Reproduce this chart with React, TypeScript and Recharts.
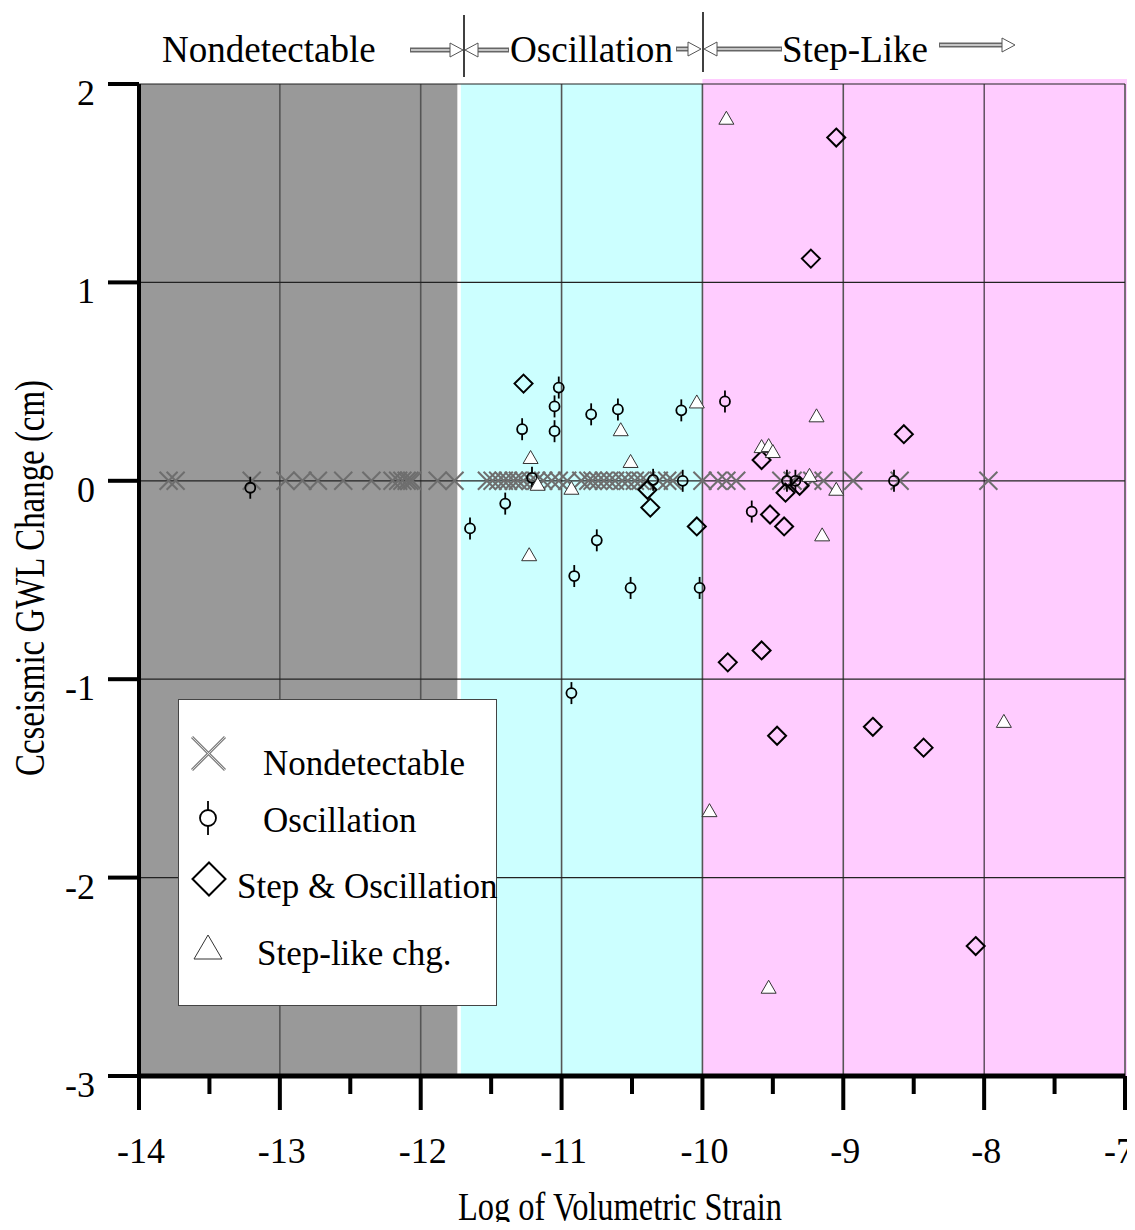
import React from "react";
import {
  ScatterChart,
  Scatter,
  XAxis,
  YAxis,
  ReferenceArea,
  ReferenceLine,
  Legend,
} from "recharts";

const FONT = "'Liberation Serif', 'Times New Roman', serif";

// log volumetric strain vs coseismic change
const nondetectable = [
  { x: -13.79, y: 0 }, { x: -13.74, y: 0 }, { x: -13.2, y: 0 }, { x: -12.96, y: 0 },
  { x: -12.84, y: 0 }, { x: -12.73, y: 0 }, { x: -12.55, y: 0 }, { x: -12.35, y: 0 },
  { x: -12.2, y: 0 }, { x: -12.16, y: 0 }, { x: -12.13, y: 0 }, { x: -12.1, y: 0 },
  { x: -12.08, y: 0 }, { x: -12.06, y: 0 }, { x: -11.88, y: 0 }, { x: -11.76, y: 0 },
  { x: -11.53, y: 0 }, { x: -11.49, y: 0 }, { x: -11.45, y: 0 }, { x: -11.41, y: 0 },
  { x: -11.38, y: 0 }, { x: -11.34, y: 0 }, { x: -11.31, y: 0 }, { x: -11.27, y: 0 },
  { x: -11.22, y: 0 }, { x: -11.18, y: 0 }, { x: -11.13, y: 0 }, { x: -11.07, y: 0 },
  { x: -11.02, y: 0 }, { x: -10.96, y: 0 }, { x: -10.86, y: 0 }, { x: -10.81, y: 0 },
  { x: -10.78, y: 0 }, { x: -10.74, y: 0 }, { x: -10.7, y: 0 }, { x: -10.66, y: 0 },
  { x: -10.62, y: 0 }, { x: -10.57, y: 0 }, { x: -10.53, y: 0 }, { x: -10.48, y: 0 },
  { x: -10.44, y: 0 }, { x: -10.4, y: 0 }, { x: -10.31, y: 0 }, { x: -10.25, y: 0 },
  { x: -10.21, y: 0 }, { x: -10.0, y: 0 }, { x: -9.89, y: 0 }, { x: -9.83, y: 0 },
  { x: -9.76, y: 0 }, { x: -9.44, y: 0 }, { x: -9.36, y: 0 }, { x: -9.22, y: 0 },
  { x: -9.14, y: 0 }, { x: -8.93, y: 0 }, { x: -8.6, y: 0 }, { x: -7.97, y: 0 },
];

const oscillation = [
  { x: -13.21, y: -0.035 }, { x: -11.02, y: 0.47 }, { x: -11.05, y: 0.375 },
  { x: -11.28, y: 0.26 }, { x: -11.05, y: 0.25 }, { x: -10.79, y: 0.335 },
  { x: -10.6, y: 0.36 }, { x: -10.15, y: 0.355 }, { x: -11.21, y: 0.015 },
  { x: -10.35, y: 0.005 }, { x: -10.14, y: 0.0 }, { x: -11.4, y: -0.115 },
  { x: -11.65, y: -0.24 }, { x: -10.75, y: -0.3 }, { x: -10.91, y: -0.48 },
  { x: -10.51, y: -0.54 }, { x: -10.02, y: -0.54 }, { x: -10.93, y: -1.07 },
  { x: -9.84, y: 0.4 }, { x: -9.4, y: 0.0 }, { x: -9.34, y: 0.0 },
  { x: -9.65, y: -0.155 }, { x: -8.64, y: 0.0 },
];

const stepOscillation = [
  { x: -11.27, y: 0.49 }, { x: -10.39, y: -0.045 }, { x: -10.37, y: -0.135 },
  { x: -10.04, y: -0.23 }, { x: -9.05, y: 1.73 }, { x: -9.23, y: 1.12 },
  { x: -9.58, y: 0.105 }, { x: -8.57, y: 0.235 }, { x: -9.41, y: -0.06 },
  { x: -9.31, y: -0.025 }, { x: -9.52, y: -0.17 }, { x: -9.42, y: -0.23 },
  { x: -9.82, y: -0.915 }, { x: -9.58, y: -0.855 }, { x: -9.47, y: -1.285 },
  { x: -8.79, y: -1.24 }, { x: -8.43, y: -1.345 }, { x: -8.06, y: -2.345 },
];

const stepLike = [
  { x: -11.22, y: 0.12 }, { x: -10.58, y: 0.26 }, { x: -10.51, y: 0.1 },
  { x: -10.93, y: -0.035 }, { x: -11.23, y: -0.37 }, { x: -10.04, y: 0.4 },
  { x: -11.17, y: -0.015 }, { x: -9.19, y: 0.33 }, { x: -9.58, y: 0.175 },
  { x: -9.53, y: 0.18 }, { x: -9.5, y: 0.15 }, { x: -9.24, y: 0.03 },
  { x: -9.05, y: -0.04 }, { x: -9.15, y: -0.27 }, { x: -9.83, y: 1.83 },
  { x: -9.95, y: -1.66 }, { x: -9.53, y: -2.55 }, { x: -7.86, y: -1.21 },
];

const xTicks = [-14, -13.5, -13, -12.5, -12, -11.5, -11, -10.5, -10, -9.5, -9, -8.5, -8, -7.5, -7];
const yTicks = [-3, -2, -1, 0, 1, 2];
const gridX = [-13, -12, -11, -10, -9, -8, -7];
const gridY = [-2, -1, 0, 1, 2];

const cross = (cx: number, cy: number, s: number) => (
  <g stroke="#6e6e6e" strokeWidth={2}>
    <line x1={cx - s} y1={cy - s} x2={cx + s} y2={cy + s} />
    <line x1={cx - s} y1={cy + s} x2={cx + s} y2={cy - s} />
  </g>
);

const osc = (cx: number, cy: number, r: number, w: number) => (
  <g stroke="#000" strokeWidth={1.8} fill="none">
    <line x1={cx} y1={cy - w} x2={cx} y2={cy - r} />
    <line x1={cx} y1={cy + r} x2={cx} y2={cy + w} />
    <circle cx={cx} cy={cy} r={r} />
  </g>
);

const diamond = (cx: number, cy: number, s: number) => (
  <polygon
    points={`${cx},${cy - s} ${cx + s},${cy} ${cx},${cy + s} ${cx - s},${cy}`}
    fill="none"
    stroke="#000"
    strokeWidth={2}
  />
);

const triangle = (cx: number, cy: number, w: number, h: number) => (
  <polygon
    points={`${cx},${cy - h / 2} ${cx + w / 2},${cy + h / 2} ${cx - w / 2},${cy + h / 2}`}
    fill="#fff"
    stroke="#333"
    strokeWidth={1}
  />
);

const XTick = (props: any) => {
  const { x, y, payload } = props;
  const major = Number.isInteger(payload.value);
  const last = payload.value === -7;
  return (
    <g>
      <line x1={x} y1={y} x2={x} y2={y + (major ? 34 : 18)} stroke="#000" strokeWidth={4} />
      {major && (
        <text
          x={last ? 1134 : x + 2}
          y={y + 87}
          textAnchor={last ? "end" : "middle"}
          fontSize={36}
          fontFamily={FONT}
          fill="#000"
        >
          {payload.value}
        </text>
      )}
    </g>
  );
};

const YTick = (props: any) => {
  const { x, y, payload } = props;
  return (
    <g>
      <line x1={x - 31} y1={y} x2={x} y2={y} stroke="#000" strokeWidth={4} />
      <text x={x - 44} y={y + 21} textAnchor="end" fontSize={36} fontFamily={FONT} fill="#000">
        {payload.value}
      </text>
    </g>
  );
};

const LegendBox = () => (
  <svg width={320} height={308} style={{ display: "block" }}>
    <rect x={0.5} y={0.5} width={318} height={306} fill="#fff" stroke="#444" strokeWidth={1} />
    <g stroke="#808080" strokeWidth={3}>
      <line x1={14} y1={38} x2={47} y2={71} />
      <line x1={14} y1={71} x2={47} y2={38} />
    </g>
    <g stroke="#eee" strokeWidth={0.8}>
      <line x1={14} y1={38} x2={47} y2={71} />
      <line x1={14} y1={71} x2={47} y2={38} />
    </g>
    {osc(30, 119, 8, 17)}
    {diamond(31, 180, 16.5)}
    {triangle(30, 248, 28, 24)}
    <g fontFamily={FONT} fontSize={35} fill="#000">
      <text x={85} y={76}>Nondetectable</text>
      <text x={85} y={133}>Oscillation</text>
      <text x={59} y={199}>Step &amp; Oscillation</text>
      <text x={79} y={266}>Step-like chg.</text>
    </g>
  </svg>
);

const Arrow = ({ from, to, y }: { from: number; to: number; y: number }) => {
  const d = to > from ? 1 : -1;
  const base = to - d * 13;
  return (
    <g>
      <line x1={from} y1={y} x2={base} y2={y} stroke="#666" strokeWidth={5} />
      <line x1={from + d} y1={y} x2={base} y2={y} stroke="#e6e6e6" strokeWidth={1.5} />
      <polygon points={`${to},${y} ${base},${y - 7} ${base},${y + 7}`} fill="#fff" stroke="#555" strokeWidth={1} />
    </g>
  );
};

const Header = () => (
  <svg width={1135} height={90} style={{ position: "absolute", left: 0, top: 0, pointerEvents: "none" }}>
    <rect x={0} y={0} width={1135} height={6} fill="#0066cc" />
    <g fontFamily={FONT} fontSize={37} fill="#000">
      <text x={162} y={62}>Nondetectable</text>
      <text x={510} y={62} textLength={163} lengthAdjust="spacingAndGlyphs">Oscillation</text>
      <text x={782} y={62} textLength={146} lengthAdjust="spacingAndGlyphs">Step-Like</text>
    </g>
    <Arrow from={410} to={463} y={50} />
    <Arrow from={509} to={465} y={50} />
    <Arrow from={676} to={701} y={49} />
    <Arrow from={782} to={704} y={49} />
    <Arrow from={939} to={1015} y={45} />
    <line x1={464} y1={15} x2={464} y2={77} stroke="#000" strokeWidth={1.5} />
    <line x1={703} y1={12} x2={703} y2={72} stroke="#000" strokeWidth={1.5} />
  </svg>
);

export default function App() {
  return (
    <div style={{ position: "relative", width: 1135, height: 1230, margin: -8, background: "#fff", overflow: "hidden" }}>
      <ScatterChart width={1135} height={1230} margin={{ top: 84, right: 10, bottom: 0, left: 0 }}>
        <XAxis
          type="number"
          dataKey="x"
          domain={[-14, -7]}
          ticks={xTicks}
          interval={0}
          allowDataOverflow
          height={154}
          tickSize={0}
          tickMargin={0}
          tick={<XTick />}
          axisLine={{ stroke: "#000", strokeWidth: 5 }}
        />
        <YAxis
          type="number"
          dataKey="y"
          domain={[-3, 2]}
          ticks={yTicks}
          interval={0}
          allowDataOverflow
          width={139}
          tickSize={0}
          tickMargin={0}
          tick={<YTick />}
          axisLine={{ stroke: "#000", strokeWidth: 4 }}
        />
        <ReferenceArea x1={-14} x2={-11.74} y1={-3} y2={2} fill="#999999" fillOpacity={1} stroke="none" />
        <ReferenceArea x1={-11.715} x2={-10} y1={-3} y2={2} fill="#ccffff" fillOpacity={1} stroke="none" />
        <ReferenceArea x1={-10} x2={-6.96} y1={-3} y2={2.025} fill="#ffccff" fillOpacity={1} stroke="none" ifOverflow="visible" />
        {gridX.map((v) => (
          <ReferenceLine key={`gx${v}`} x={v} stroke={v === -8 ? "#111" : "#555"} strokeWidth={v === -8 ? 1 : 1.6} />
        ))}
        {gridY.map((v) => (
          <ReferenceLine key={`gy${v}`} y={v} stroke="#222" strokeWidth={1.2} />
        ))}
        <Legend
          layout="horizontal"
          verticalAlign="middle"
          align="center"
          content={() => <LegendBox />}
          wrapperStyle={{ position: "absolute", left: 178, top: 699, width: 320, height: 308 }}
        />
        <Scatter
          name="Nondetectable"
          data={nondetectable}
          isAnimationActive={false}
          shape={(p: any) => cross(p.cx, p.cy, 9)}
        />
        <Scatter
          name="Oscillation"
          data={oscillation}
          isAnimationActive={false}
          shape={(p: any) => osc(p.cx, p.cy, 5, 11)}
        />
        <Scatter
          name="Step & Oscillation"
          data={stepOscillation}
          isAnimationActive={false}
          shape={(p: any) => diamond(p.cx, p.cy, 9)}
        />
        <Scatter
          name="Step-like chg."
          data={stepLike}
          isAnimationActive={false}
          shape={(p: any) => triangle(p.cx, p.cy, 15, 13)}
        />
        <text
          x={620}
          y={1220}
          textAnchor="middle"
          fontFamily={FONT}
          fontSize={40}
          textLength={324}
          lengthAdjust="spacingAndGlyphs"
        >
          Log of Volumetric Strain
        </text>
        <text
          x={44}
          y={578}
          transform="rotate(-90 44 578)"
          textAnchor="middle"
          fontFamily={FONT}
          fontSize={42}
          textLength={396}
          lengthAdjust="spacingAndGlyphs"
        >
          Ccseismic GWL Change (cm)
        </text>
      </ScatterChart>
      <Header />
    </div>
  );
}
